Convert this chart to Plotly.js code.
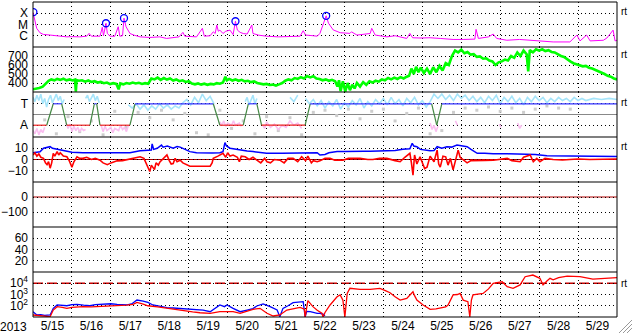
<!DOCTYPE html>
<html><head><meta charset="utf-8">
<script src="https://cdn.plot.ly/plotly-3.0.1.min.js"></script>
<style>html,body{margin:0;padding:0;background:#fff;overflow:hidden}</style>
</head><body><div id="chart" style="width:633px;height:334px"></div>
<script>
// ---- data (x = days since 2013-05-15 00:00 UT) ----
const xrayD = [0.00,0.05,0.095,0.18,0.265,0.44,0.6,0.87,1.0,1.2,1.38,1.44,1.50,1.72,1.78,1.81,1.875,1.91,1.98,2.1,2.19,2.23,2.30,2.337,2.39,2.49,2.6,2.75,3.0,3.26,3.43,3.6,3.75,3.85,3.9,4.2,4.35,4.40,4.55,4.63,4.68,4.72,4.76,4.8,4.88,4.95,5.06,5.14,5.20,5.25,5.32,5.40,5.5,5.62,5.65,5.8,6.0,6.3,6.6,6.86,6.94,7.0,7.2,7.3,7.37,7.48,7.53,7.59,7.71,7.89,8.14,8.18,8.32,8.66,8.70,8.79,9.09,9.3,9.6,9.68,9.75,9.94,10.2,10.46,10.79,11.05,11.35,11.38,11.44,11.7,11.82,11.91,12.17,12.5,12.94,13.36,13.79,13.97,14.05,14.22,14.31,14.65,14.74,14.9,14.95,15.0];
const xrayLog = [-3.92,-4.75,-5.34,-5.74,-5.88,-5.94,-6.0,-6.1,-6.08,-6.1,-6.04,-5.79,-6.04,-6.04,-5.25,-6.0,-4.89,-5.8,-6.04,-6.05,-5.2,-6.04,-6.0,-4.44,-5.2,-5.8,-5.95,-6.1,-6.15,-6.1,-6.24,-6.2,-6.1,-5.7,-6.04,-6.1,-5.34,-6.04,-6.0,-5.65,-5.8,-5.05,-5.6,-5.5,-5.8,-5.6,-5.5,-5.9,-4.71,-5.5,-5.7,-5.8,-5.85,-5.05,-5.8,-5.95,-6.04,-6.1,-6.08,-6.04,-5.55,-5.94,-6.0,-6.04,-5.79,-4.73,-4.23,-4.89,-5.48,-5.73,-5.79,-5.65,-5.94,-5.8,-5.34,-5.94,-6.1,-6.0,-6.24,-5.79,-6.18,-6.2,-6.18,-6.24,-6.33,-6.33,-6.3,-5.43,-6.24,-6.1,-5.85,-6.24,-6.4,-6.33,-6.46,-6.55,-6.55,-5.94,-6.46,-5.94,-6.46,-6.4,-6.2,-5.5,-6.46,-6.4];
const flareD = [0.01,1.875,2.337,5.20,7.53];
const flareLog = [-3.90,-4.89,-4.44,-4.71,-4.23];

const speedD = [0.00,0.08,0.16,0.25,0.33,0.40,0.47,0.55,0.62,0.70,0.78,0.86,0.94,1.02,1.08,1.10,1.12,1.18,1.26,1.34,1.42,1.50,1.58,1.66,1.74,1.82,1.90,1.98,2.06,2.14,2.20,2.24,2.32,2.40,2.48,2.56,2.64,2.72,2.80,2.88,2.96,3.04,3.12,3.20,3.28,3.36,3.44,3.52,3.60,3.68,3.76,3.84,3.92,4.00,4.08,4.16,4.24,4.32,4.40,4.48,4.56,4.64,4.72,4.80,4.88,4.94,4.98,5.04,5.12,5.20,5.28,5.36,5.44,5.52,5.60,5.68,5.76,5.84,5.92,6.00,6.08,6.16,6.24,6.32,6.40,6.48,6.56,6.64,6.72,6.80,6.88,6.96,7.04,7.12,7.20,7.28,7.36,7.44,7.52,7.60,7.68,7.76,7.82,7.86,7.90,7.96,8.02,8.08,8.14,8.20,8.26,8.32,8.40,8.48,8.56,8.64,8.72,8.80,8.88,8.96,9.04,9.12,9.20,9.28,9.36,9.44,9.52,9.60,9.66,9.72,9.78,9.84,9.90,9.96,10.04,10.12,10.20,10.28,10.36,10.44,10.52,10.60,10.68,10.76,10.84,10.92,11.00,11.08,11.16,11.24,11.32,11.40,11.48,11.56,11.64,11.72,11.80,11.88,11.96,12.04,12.12,12.20,12.28,12.36,12.44,12.52,12.60,12.68,12.72,12.76,12.84,12.92,13.00,13.08,13.16,13.24,13.32,13.40,13.48,13.56,13.64,13.72,13.80,13.88,13.96,14.04,14.12,14.20,14.28,14.36,14.44,14.52,14.60,14.68,14.76,14.84,14.92,15.00];
const speedV = [330,335,345,360,400,425,440,430,445,435,448,430,440,428,438,305,432,425,430,415,428,412,420,405,412,398,405,388,398,390,330,395,385,400,392,405,395,402,390,398,392,450,440,460,435,455,438,450,428,440,420,430,412,420,395,385,395,382,392,380,390,385,398,392,405,470,430,445,428,440,425,435,418,425,410,418,400,395,385,390,378,382,372,385,400,425,440,430,455,445,465,450,478,462,475,450,445,430,440,425,435,420,360,430,310,420,305,400,320,380,340,400,360,410,380,420,405,425,415,440,430,455,440,460,445,465,450,470,480,560,500,580,520,570,510,560,500,575,520,590,540,620,600,700,760,740,770,730,745,715,720,690,695,670,675,650,640,600,630,640,660,650,700,680,740,700,760,720,530,765,740,775,760,775,755,765,745,740,720,700,690,660,640,620,610,600,585,590,570,560,545,535,520,500,480,470,450,440];

// IMF sector model: +1 = Toward, -1 = Away
const sectorD = [0,0.352,0.52,0.737,0.866,1.464,1.575,1.636,1.72,2.49,2.62,4.63,4.80,5.40,5.53,5.75,5.87,6.99,7.12,10.24,10.37,10.50,15];
const sectorV = [-1,-1,1,1,-1,-1,1,1,-1,-1,1,1,-1,-1,1,1,-1,-1,1,1,-1,1,1];
const phiTowardD = [0.0,0.05,0.1,0.15,0.2,0.25,0.3,0.35,0.4,0.45,0.5,0.55,0.6,0.65,0.7,0.75,0.8,0.82,
 1.35,1.4,1.45,1.5,1.55,1.6,1.65,1.7,1.72,
 2.45,2.55,2.65,2.75,2.85,2.95,3.05,3.15,3.25,3.35,3.45,3.55,3.65,3.75,3.85,3.95,4.05,4.15,4.25,4.35,4.45,4.55,4.65,4.7,
 5.45,5.5,5.55,5.6,5.65,5.7,5.75,5.8,
 6.6,6.7,6.8,6.85,
 7.0,7.1,7.2,7.3,7.4,7.5,7.6,7.7,7.8,7.9,8.0,8.1,8.2,8.3,8.4,8.5,8.6,8.7,8.8,8.9,9.0,9.1,9.2,9.3,9.4,9.5,9.6,9.7,9.8,9.9,10.0,10.1,10.2,10.3,10.4,10.5,10.6,10.7,10.8,10.9,11.0,11.1,11.2,11.3,11.4,11.5,11.6,11.7,11.8,11.9,12.0,12.1,12.2,12.3,12.4,12.5,12.6,12.7,12.8,12.9,13.0,13.1,13.2,13.3,13.4,13.5,13.6,13.7,13.8,13.9,14.0,14.1,14.2,14.4,14.6,14.8,15.0];
const phiTowardV = [1.6,1.2,1.8,1.3,1.9,1.0,1.5,0.7,1.4,1.8,1.1,1.6,1.9,1.3,1.7,1.0,1.4,null,
 1.5,1.8,1.2,1.6,1.9,1.3,1.7,1.1,null,
 0.9,0.6,1.0,0.5,0.9,0.4,0.8,0.5,1.0,0.6,0.9,0.5,0.8,0.6,1.1,1.4,0.9,1.6,1.1,1.9,1.3,1.7,1.0,null,
 1.2,1.6,0.9,1.4,1.8,1.0,1.5,null,
 1.6,1.2,1.8,null,
 1.5,1.0,1.4,0.8,1.3,0.6,1.2,0.8,1.4,0.5,1.1,0.7,1.3,0.9,1.5,0.6,1.2,0.8,1.4,1.0,1.5,0.9,1.6,1.0,1.4,0.8,1.5,1.1,1.6,0.9,1.3,0.7,1.2,1.9,1.5,1.9,1.4,1.8,1.3,1.9,1.5,1.8,1.3,1.7,1.2,1.6,1.1,1.7,1.3,1.8,1.0,1.6,1.2,1.7,1.1,1.5,0.9,1.6,1.2,1.7,1.3,1.6,1.1,1.5,1.2,1.6,1.3,1.5,1.2,1.6,1.3,1.5,1.3,1.5,1.4,1.5,1.4];
const phiAwayD = [0.0,0.05,0.1,0.15,0.2,0.25,0.3,0.32,
 0.85,0.9,0.95,1.0,1.05,1.1,1.15,1.2,1.25,1.3,1.35,1.37,
 1.75,1.8,1.85,1.9,2.0,2.05,2.1,2.2,2.25,2.3,2.35,2.4,2.45,2.47,
 4.8,4.85,4.9,4.95,5.0,5.1,5.15,5.2,5.3,5.35,5.37,
 5.9,5.95,6.0,6.1,6.2,6.3,6.4,6.5,6.6,6.7,6.8,6.9,6.92,
 10.2,10.25,10.3,10.35,10.4,10.42,10.85,10.9,10.92,11.98,12.02,12.04,12.45,12.5,12.55];
const phiAwayV = [-1.5,-1.8,-1.3,-1.9,-1.4,-1.7,-1.2,null,
 -0.8,-1.3,-0.9,-1.6,-1.1,-1.5,-1.2,-1.6,-1.3,-1.5,-1.4,null,
 -1.0,-1.6,-1.1,-1.5,-1.2,-1.7,-1.3,-1.5,-1.0,-1.4,-1.2,-1.6,-1.0,null,
 -0.7,-1.0,-0.6,-1.1,-0.8,-1.0,-0.6,-1.0,-0.8,-1.1,null,
 -1.0,-1.3,-0.7,-1.2,-0.9,-1.4,-1.0,-1.2,-0.6,-1.0,-0.8,-1.3,null,
 -0.8,-1.4,-1.0,-1.6,-1.1,null,-0.6,-1.0,null,-0.9,-1.2,null,-0.8,-1.3,-1.0];
const phiOtherD = [0.3,0.6,0.9,1.2,1.5,1.8,2.1,2.4,2.7,3.0,3.3,3.6,3.9,4.2,4.5,4.8,5.1,5.4,5.7,6.0,6.3,6.6,6.9,7.2,7.5,7.8,8.1,8.4,8.7,9.0,9.3,9.6,9.9,10.2,10.5,10.8,11.1,11.4,11.7,12.0,12.3,12.6,12.9,13.2,13.5,13.8];
const phiOtherV = [-0.5,-1.8,-0.2,-1.6,-0.6,-1.9,0.3,-1.2,0.2,-0.3,0.4,-0.5,0.1,-1.7,-1.9,0.4,-1.3,-0.6,-1.8,-0.2,-1.5,-0.3,-1.9,0.2,0.4,-0.1,0.5,-0.4,0.3,0.5,-0.6,0.1,0.6,-1.8,-1.5,0.2,0.6,0.4,0.7,0.3,0.6,0.2,0.5,0.8,0.6,0.5];

const btD = [0,0.18,0.27,0.44,0.5,0.62,0.75,0.87,1.0,1.28,1.5,1.72,2.0,2.16,2.3,2.49,2.75,2.95,3.04,3.06,3.1,3.19,3.3,3.34,3.45,3.6,3.7,3.78,3.9,4.03,4.2,4.47,4.6,4.8,4.88,4.93,4.97,5.06,5.2,5.32,5.5,5.65,5.8,6.0,6.4,6.68,7.0,7.3,7.37,7.5,7.6,7.81,8.0,8.22,8.5,8.66,9.09,9.3,9.5,9.68,9.74,9.78,9.86,9.95,10.2,10.3,10.38,10.5,10.63,10.75,10.89,11.0,11.15,11.25,11.41,11.6,11.82,12.2,12.51,12.9,13.2,13.6,14.0,14.5,15];
const btV = [6,6.9,10,11.4,10,9,8,7,6.5,6,6,5.5,5.5,5.5,5.8,6,7.7,8.3,8.5,13.8,9,10,12.8,11,12,10,11.5,11,9,7,6,5.5,5.8,6,7,15,12,10,9,8.3,7.5,7,6.5,5.5,5.5,5.5,5.8,6,4,4.5,6,7,7,7.4,7.4,7.4,7.4,8,9,9.5,14.4,12,11.4,9,7.7,8,11.4,10,11.4,11,12.8,12,11.4,9,5.5,5.5,5,5,5,4.5,3.3,3.2,3,2.8,2.7];
const bzD = [0,0.05,0.1,0.15,0.2,0.27,0.32,0.36,0.4,0.44,0.48,0.52,0.56,0.62,0.66,0.7,0.78,0.87,0.93,1.0,1.05,1.13,1.2,1.28,1.38,1.5,1.6,1.72,1.8,1.91,2.0,2.1,2.16,2.3,2.415,2.55,2.65,2.75,2.85,2.92,2.97,3.0,3.04,3.08,3.12,3.16,3.22,3.26,3.32,3.38,3.44,3.5,3.55,3.6,3.65,3.7,3.78,3.85,3.95,4.03,4.2,4.4,4.55,4.6,4.63,4.75,4.88,4.95,5.0,5.06,5.14,5.25,5.3,5.35,5.45,5.55,5.65,5.75,5.85,5.95,6.01,6.1,6.2,6.34,6.45,6.55,6.68,6.8,6.9,7.0,7.06,7.15,7.2,7.3,7.37,7.5,7.63,7.75,7.96,8.1,8.4,8.6,8.73,8.9,9.09,9.3,9.43,9.55,9.68,9.72,9.76,9.8,9.86,9.94,10.0,10.06,10.12,10.2,10.3,10.38,10.42,10.46,10.53,10.6,10.66,10.72,10.79,10.84,10.92,10.97,11.05,11.15,11.25,11.41,11.6,11.82,12.0,12.18,12.3,12.51,12.6,12.77,12.85,12.94,13.02,13.15,13.36,13.6,13.79,14.0,14.3,14.6,14.9,15];
const bzV = [4,6,3,5,2,1,-3,-4.6,-2,-7.7,-3,5.5,3,7,4,6,3,2.4,-1,-6.8,-2,2.4,1,1,2,0,1,-0.6,-3,-4.6,-3,-2,-1.2,-1,0,1,2,2.4,1,-4,-9,-10.7,-5,-6.8,-9,-3,-5,-2.2,0,2,4,-1,-4,-3.6,1,-2,-0.6,-3,-5,-6,-6,-5.8,-6,-3,1,3,5.5,2,6,3,4,2,-2,3,2.4,0,2,-0.6,-3,1,-2,-3,0,-0.6,-3,1,1,-2,2.4,-1,3,-3,-1,-2,-1.2,1,1,-0.6,-0.6,1,1,0,0,1,1,-1,-2,2,5.5,-3,-14,4,-4,2.4,-3,-8,-6.8,3,-2,8.3,-4,-6.8,3,2.4,-5,1,-9.2,-3,8.3,2,-0.6,-3,-1,-1.2,-0.8,-0.6,0.5,1,-1,-2,2,4,-2,1,-2,1,0,-0.5,0,0.5,0,0.3,0.5,0.5];

const elecAD = [0,0.05,0.1,0.2,0.3,0.44,0.52,0.62,0.75,0.87,1.0,1.13,1.3,1.46,1.6,1.72,1.91,2.0,2.16,2.3,2.42,2.55,2.67,2.83,2.95,3.08,3.25,3.44,3.6,3.78,3.95,4.11,4.29,4.37,4.55,4.7,4.8,4.92,4.98,5.14,5.32,5.5,5.65,5.75,5.91,6.09,6.27,6.34,6.42,6.55,6.68,6.94,6.99,7.03,7.12,7.3,7.37,7.45,7.5];
const elecALog = [1.47,1.33,1.18,1.2,1.15,1.18,1.77,2.07,2.05,2.0,2.1,2.13,2.05,2.0,2.1,2.13,2.22,2.18,2.13,2.1,2.07,2.2,2.51,2.42,2.3,2.07,1.95,1.83,1.8,1.77,1.74,1.71,1.68,1.62,1.47,1.8,2.07,1.92,2.07,1.77,1.47,1.62,1.75,1.98,2.16,1.92,1.62,1.03,1.77,2.0,2.27,2.36,1.0,1.5,1.47,1.33,1.33,1.25,1.1];
const elecBD = [0,0.2,0.44,0.52,0.62,0.75,0.87,1.0,1.28,1.5,1.72,1.9,2.16,2.4,2.57,2.67,2.83,2.95,3.2,3.44,3.6,3.85,4.1,4.29,4.55,4.8,5.0,5.14,5.32,5.5,5.65,5.83,6.01,6.17,6.34,6.52,6.7,6.86,6.97,6.99,7.06,7.19,7.3,7.37,7.42,7.45,7.5,7.63,7.75,7.81,7.89,7.96,8.01,8.07,8.14,8.3,8.4,8.66,8.8,8.91,9.05,9.17,9.3,9.43,9.6,9.76,9.8,9.86,10.02,10.1,10.2,10.35,10.46,10.6,10.66,10.79,10.9,10.97,11.05,11.17,11.22,11.26,11.3,11.45,11.56,11.7,11.82,12.05,12.18,12.33,12.51,12.64,12.84,13.02,13.1,13.2,13.28,13.36,13.5,13.72,14.05,14.38,14.7,15];
const elecBLog = [1.18,1.1,1.03,1.62,1.92,1.85,1.77,1.85,1.92,1.9,1.92,1.95,2.0,2.05,2.13,2.3,2.15,2.0,1.9,1.77,1.7,1.53,1.45,1.38,1.33,1.47,1.5,1.47,1.33,1.5,1.68,1.77,1.33,1.09,1.18,1.62,1.75,1.86,1.7,1.0,2.45,1.92,1.6,1.47,1.33,1.0,1.4,2.07,2.5,2.8,2.96,2.5,1.0,3.1,3.55,3.5,3.45,3.45,3.5,3.55,3.35,3.16,2.8,2.5,2.65,3.25,2.9,2.5,2.07,1.9,1.68,1.72,1.77,1.9,2.07,2.96,3.0,3.1,2.5,2.36,1.0,2.5,2.96,3.05,3.1,3.5,4.0,4.14,3.7,3.55,3.85,4.58,4.73,4.44,3.85,4.2,4.44,4.3,4.5,4.64,4.58,4.36,4.45,4.5];

const ticksXray = {vals:[-4,-5,-6], text:['X','M','C']};
const ticksSpeed = [400,500,600,700];
const ticksSector = {vals:[1,-1], text:['T','A']};
const ticksB = [10,0,-10];
const ticksDst = [0,-100];
const ticksP6 = [60,40,20];
const ticksElec = {vals:[4,3,2], text:['10<sup>4</sup>','10<sup>3</sup>','10<sup>2</sup>']};

// ---- helpers ----
const T0 = Date.UTC(2013,4,15);
function toT(d){ return new Date(T0 + d*86400000).toISOString().slice(0,19).replace('T',' '); }
function tt(arr){ return arr.map(toT); }
const FONT = 'Liberation Sans, Arial, Helvetica, sans-serif';

const traces = [];
traces.push({x:tt(xrayD), y:xrayLog, yaxis:'y', mode:'lines', line:{color:'#ff00ff', width:1}, hoverinfo:'skip'});
traces.push({x:tt(flareD), y:flareLog, yaxis:'y', mode:'markers', marker:{symbol:'circle-open', size:7, color:'#0000ff', line:{width:1.3, color:'#0000ff'}}, hoverinfo:'skip'});
traces.push({x:tt(speedD), y:speedV, yaxis:'y2', mode:'lines', line:{color:'#00ff00', width:2.6}, hoverinfo:'skip'});
traces.push({x:tt(phiOtherD), y:phiOtherV, yaxis:'y3', mode:'markers', marker:{symbol:'square', size:3, color:'rgb(205,205,205)'}, hoverinfo:'skip'});
traces.push({x:tt(phiTowardD), y:phiTowardV, yaxis:'y3', mode:'lines', line:{color:'rgb(165,228,250)', width:1.6}, connectgaps:false, hoverinfo:'skip'});
traces.push({x:tt(phiAwayD), y:phiAwayV, yaxis:'y3', mode:'lines', line:{color:'rgb(250,190,240)', width:1.6}, connectgaps:false, hoverinfo:'skip'});
// sector model, coloured per segment
for (let i=0;i<sectorD.length-1;i++){
  const a=sectorV[i], b=sectorV[i+1];
  const col = (a===b) ? (a>0 ? '#3333ff' : '#ee2222') : '#448844';
  traces.push({x:[toT(sectorD[i]),toT(sectorD[i+1])], y:[a,b], yaxis:'y3', mode:'lines', line:{color:col, width:1.2}, hoverinfo:'skip'});
}
traces.push({x:tt(btD), y:btV, yaxis:'y4', mode:'lines', line:{color:'#0000ff', width:1.5}, hoverinfo:'skip'});
traces.push({x:tt(bzD), y:bzV, yaxis:'y4', mode:'lines', line:{color:'#ff0000', width:1.6}, hoverinfo:'skip'});
traces.push({x:[toT(0)], y:[null], yaxis:'y5', mode:'lines', hoverinfo:'skip'});
traces.push({x:[toT(0)], y:[null], yaxis:'y6', mode:'lines', hoverinfo:'skip'});
traces.push({x:tt(elecAD), y:elecALog, yaxis:'y7', mode:'lines', line:{color:'#0000ff', width:1.3}, hoverinfo:'skip'});
traces.push({x:tt(elecBD), y:elecBLog, yaxis:'y7', mode:'lines', line:{color:'#ff0000', width:1.3}, hoverinfo:'skip'});

function dom(k){ return [1-(k+1)/7, 1-k/7]; }
function yax(k, range, vals, text){
  const o = {domain:dom(k), range:range, tickvals:vals, showgrid:true, gridcolor:'#000', griddash:'1px,3px', gridwidth:1,
    zeroline:false, showline:false, ticks:'', ticklabelstandoff:4, anchor:'x', fixedrange:true,
    tickfont:{family:FONT, size:12, color:'#000'}};
  if (text) o.ticktext = text;
  return o;
}

const shapes = [];
// reference lines
shapes.push({type:'line', xref:'paper', x0:0, x1:1, yref:'y3', y0:0, y1:0, line:{color:'#888', width:1.2}, layer:'between'});
shapes.push({type:'line', xref:'paper', x0:0, x1:1, yref:'y4', y0:0, y1:0, line:{color:'#b00000', width:1.2}, layer:'between'});
shapes.push({type:'line', xref:'paper', x0:0, x1:1, yref:'y5', y0:0, y1:0, line:{color:'#b00000', width:1.2}, layer:'between'});
shapes.push({type:'line', xref:'paper', x0:0, x1:1, yref:'y7', y0:4, y1:4, line:{color:'#c80000', width:1.3, dash:'10px,4px'}, layer:'between'});
// panel frame and separators
shapes.push({type:'rect', xref:'paper', yref:'paper', x0:0, x1:1, y0:0, y1:1, line:{color:'#000', width:1}, layer:'above'});
for (let k=1;k<7;k++) shapes.push({type:'line', xref:'paper', yref:'paper', x0:0, x1:1, y0:k/7, y1:k/7, line:{color:'#000', width:1.2}, layer:'above'});
// resize grip bottom-right
function px(x){ return (x-33)/584; } function py(y){ return (317-y)/315; }
[[619,333,632,320],[623,333,632,324],[627,333,632,328]].forEach(function(s){
  shapes.push({type:'line', xref:'paper', yref:'paper', x0:px(s[0]), y0:py(s[1]), x1:px(s[2]), y1:py(s[3]), line:{color:'#999', width:1}, layer:'above'});
});

const annotations = [];
annotations.push({text:'2013', xref:'paper', yref:'paper', x:0, y:0, xanchor:'right', yanchor:'top', xshift:-4, yshift:-1, showarrow:false, font:{family:FONT, size:12, color:'#000'}});
[11,55,102,146,283].forEach(function(y){
  annotations.push({text:'rt', xref:'paper', yref:'paper', x:1, y:py(y), xanchor:'left', yanchor:'middle', xshift:2, showarrow:false, font:{family:FONT, size:10, color:'#000'}});
});

const layout = {
  width:633, height:334, margin:{l:33, r:16, t:2, b:17, pad:0},
  paper_bgcolor:'#fff', plot_bgcolor:'#fff', showlegend:false,
  font:{family:FONT, size:12, color:'#000'},
  xaxis:{type:'date', range:[toT(0), toT(15)], tick0:toT(0), dtick:86400000, tickformat:'%-m/%-d', ticklabelmode:'period',
    showgrid:true, gridcolor:'#000', griddash:'1px,3px', gridwidth:1, zeroline:false, showline:false, ticks:'',
    anchor:'y7', fixedrange:true, tickfont:{family:FONT, size:12, color:'#000'}},
  yaxis:yax(0,[-7,-3],ticksXray.vals,ticksXray.text),
  yaxis2:yax(1,[300,800],ticksSpeed),
  yaxis3:yax(2,[-2.1,2.1],ticksSector.vals,ticksSector.text),
  yaxis4:yax(3,[-20,20],ticksB),
  yaxis5:yax(4,[-200,100],ticksDst),
  yaxis6:yax(5,[0,80],ticksP6),
  yaxis7:yax(6,[1,5],ticksElec.vals,ticksElec.text),
  shapes:shapes, annotations:annotations
};
Plotly.newPlot('chart', traces, layout, {staticPlot:true, displayModeBar:false});
</script></body></html>
